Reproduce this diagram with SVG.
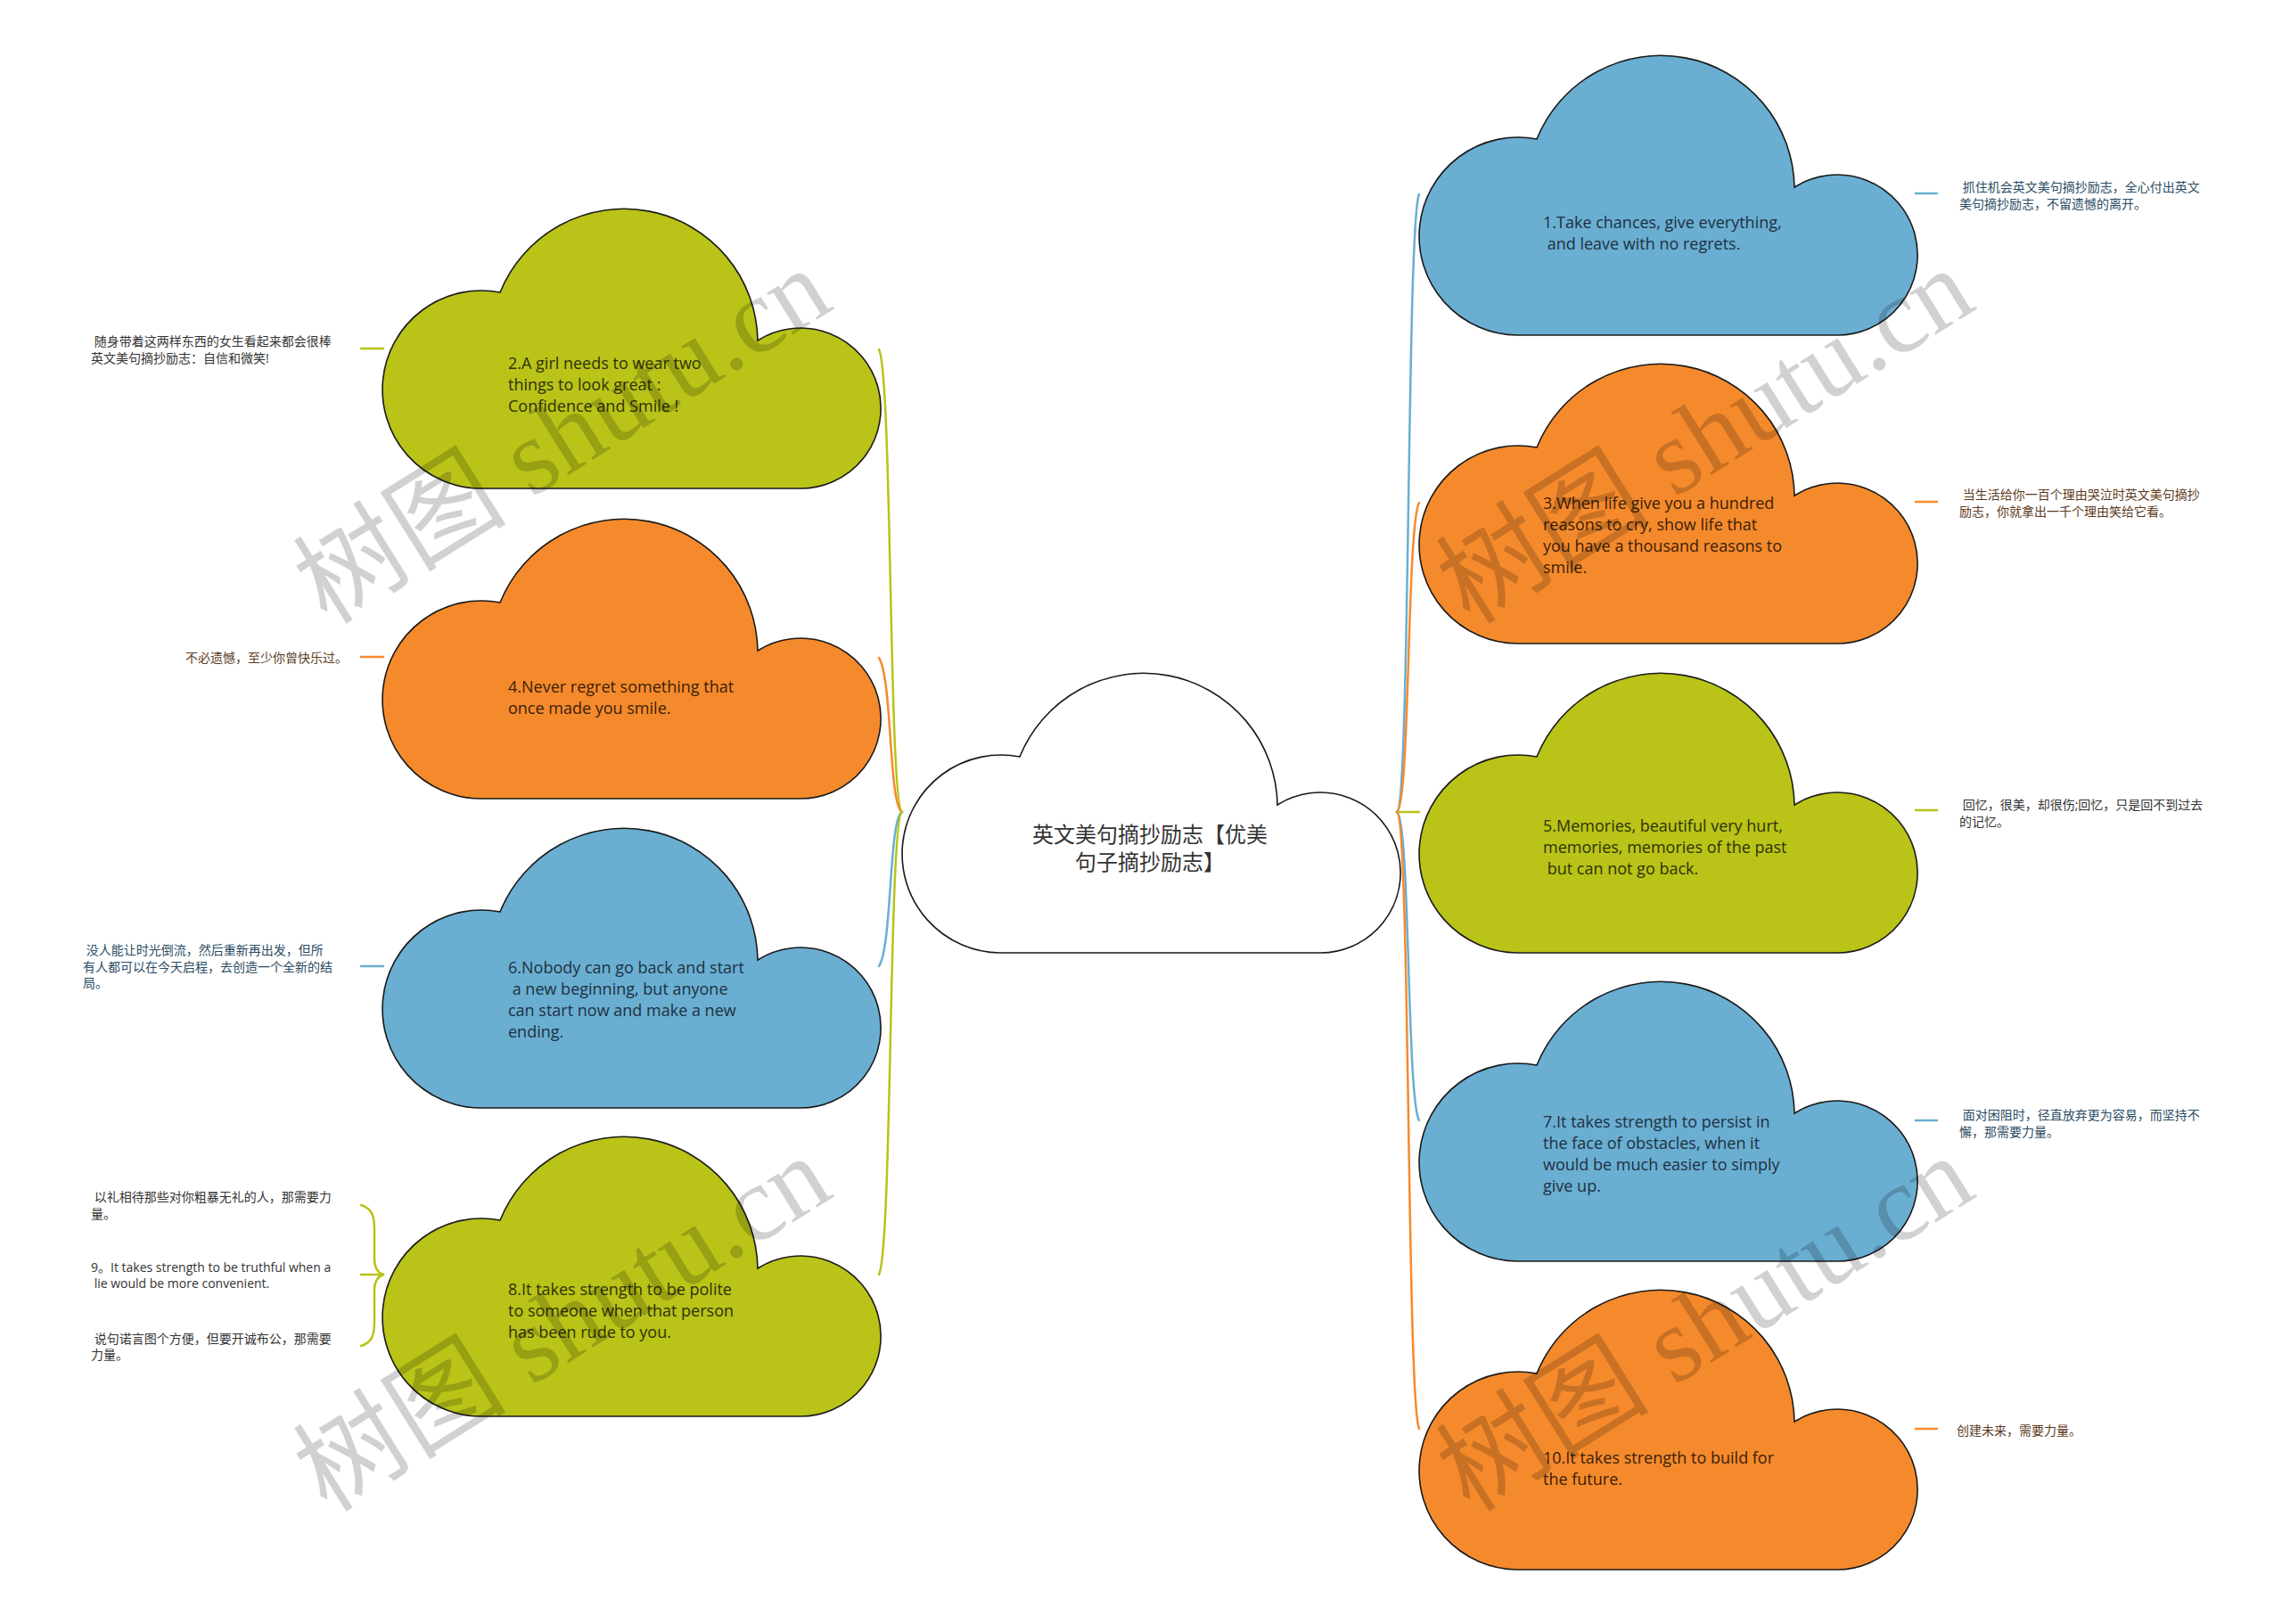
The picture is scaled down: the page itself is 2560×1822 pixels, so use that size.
<svg xmlns="http://www.w3.org/2000/svg" width="2560" height="1822" viewBox="0 0 2560 1822">
<style>
.cl{stroke:#1a1a1a;stroke-width:1.6}
.fb{fill:#6aaed2}.fo{fill:#f58a2c}.fg{fill:#b9c318}.fw{fill:#ffffff}
.t{font-family:"Open Sans","Noto Sans CJK SC",sans-serif;font-size:18px;white-space:pre}
.tb{fill:#1e3140}.to{fill:#3a210a}.tg{fill:#2e320a}
.n{font-family:"Open Sans","Noto Sans CJK SC",sans-serif;font-size:14px;white-space:pre}
.nb{fill:#2b4c63}.no{fill:#5c3a1c}.ng{fill:#333333}
.lk{fill:none;stroke-width:2.5;stroke-linecap:round}
.sb{stroke:#6aaed2}.so{stroke:#f58a2c}.sg{stroke:#b9c318}
.wm{fill:#000000;fill-opacity:0.18;font-size:120px}
</style>
<defs>
<path id="cloud" d="M110,316 A111,111 0 1 1 132,96 A150,150 0 0 1 421,150 A90,90 0 1 1 466,316 Z"/>
</defs>
<rect width="2560" height="1822" fill="#ffffff"/>

<g id="connectors">
<path class="lk sg" d="M1012,911 C997,905 1001,420 986,392"/>
<path class="lk so" d="M1012,911 C997,905 1001,760 986,738"/>
<path class="lk sb" d="M1012,911 C997,917 1001,1062 986,1084"/>
<path class="lk sg" d="M1012,911 C997,917 1001,1400 986,1430"/>
<path class="lk sb" d="M1567,911 C1582,905 1578,250 1592,218"/>
<path class="lk so" d="M1567,911 C1582,905 1578,590 1592,564"/>
<path class="lk sg" d="M1567,911 L1592,911"/>
<path class="lk sb" d="M1567,911 C1582,917 1578,1232 1592,1257"/>
<path class="lk so" d="M1567,911 C1582,917 1578,1570 1592,1603"/>
<path class="lk sb" d="M2149,217 L2173,217"/>
<path class="lk so" d="M2149,563 L2173,563"/>
<path class="lk sg" d="M2149,909 L2173,909"/>
<path class="lk sb" d="M2149,1257 L2173,1257"/>
<path class="lk so" d="M2149,1603 L2173,1603"/>
<path class="lk sg" d="M405,391 L430,391"/>
<path class="lk so" d="M405,737 L430,737"/>
<path class="lk sb" d="M405,1084 L430,1084"/>
<path class="lk sg" d="M405,1352 C418,1356 420,1365 420,1380 L420,1412 C420,1422 424,1428 430,1430"/>
<path class="lk sg" d="M405,1510 C418,1506 420,1497 420,1482 L420,1448 C420,1438 424,1432 430,1430"/>
<path class="lk sg" d="M405,1430 L430,1430"/>
</g>

<g id="center">
<use href="#cloud" x="1012" y="753" class="cl fw"/>
<text font-family="'Noto Sans CJK SC',sans-serif" font-size="24" fill="#333333" text-anchor="middle"><tspan x="1290" y="945">英文美句摘抄励志【优美</tspan><tspan x="1290" y="976">句子摘抄励志】</tspan></text>
</g>

<g id="node1">
<use href="#cloud" x="1592" y="60" class="cl fb"/>
<text class="t tb" xml:space="preserve"><tspan x="1731" y="256">1.Take chances, give everything,</tspan><tspan x="1731" y="280"> and leave with no regrets.</tspan></text>
</g>
<g id="node3">
<use href="#cloud" x="1592" y="406" class="cl fo"/>
<text class="t to" xml:space="preserve"><tspan x="1731" y="571">3.When life give you a hundred</tspan><tspan x="1731" y="595">reasons to cry, show life that</tspan><tspan x="1731" y="619">you have a thousand reasons to</tspan><tspan x="1731" y="643">smile.</tspan></text>
</g>
<g id="node5">
<use href="#cloud" x="1592" y="753" class="cl fg"/>
<text class="t tg" xml:space="preserve"><tspan x="1731" y="933">5.Memories, beautiful very hurt,</tspan><tspan x="1731" y="957">memories, memories of the past</tspan><tspan x="1731" y="981"> but can not go back.</tspan></text>
</g>
<g id="node7">
<use href="#cloud" x="1592" y="1099" class="cl fb"/>
<text class="t tb" xml:space="preserve"><tspan x="1731" y="1265">7.It takes strength to persist in</tspan><tspan x="1731" y="1289">the face of obstacles, when it</tspan><tspan x="1731" y="1313">would be much easier to simply</tspan><tspan x="1731" y="1337">give up.</tspan></text>
</g>
<g id="node10">
<use href="#cloud" x="1592" y="1445" class="cl fo"/>
<text class="t to" xml:space="preserve"><tspan x="1731" y="1642">10.It takes strength to build for</tspan><tspan x="1731" y="1666">the future.</tspan></text>
</g>

<g id="node2">
<use href="#cloud" x="429" y="232" class="cl fg"/>
<text class="t tg" xml:space="preserve"><tspan x="570" y="414">2.A girl needs to wear two</tspan><tspan x="570" y="438">things to look great :</tspan><tspan x="570" y="462">Confidence and Smile !</tspan></text>
</g>
<g id="node4">
<use href="#cloud" x="429" y="580" class="cl fo"/>
<text class="t to" xml:space="preserve"><tspan x="570" y="777">4.Never regret something that</tspan><tspan x="570" y="801">once made you smile.</tspan></text>
</g>
<g id="node6">
<use href="#cloud" x="429" y="927" class="cl fb"/>
<text class="t tb" xml:space="preserve"><tspan x="570" y="1092">6.Nobody can go back and start</tspan><tspan x="570" y="1116"> a new beginning, but anyone</tspan><tspan x="570" y="1140">can start now and make a new</tspan><tspan x="570" y="1164">ending.</tspan></text>
</g>
<g id="node8">
<use href="#cloud" x="429" y="1273" class="cl fg"/>
<text class="t tg" xml:space="preserve"><tspan x="570" y="1453">8.It takes strength to be polite</tspan><tspan x="570" y="1477">to someone when that person</tspan><tspan x="570" y="1501">has been rude to you.</tspan></text>
</g>

<g id="note1"><text class="n nb" xml:space="preserve"><tspan x="2198" y="215"> 抓住机会英文美句摘抄励志，全心付出英文</tspan><tspan x="2198" y="234">美句摘抄励志，不留遗憾的离开。</tspan></text></g>
<g id="note3"><text class="n no" xml:space="preserve"><tspan x="2198" y="560"> 当生活给你一百个理由哭泣时英文美句摘抄</tspan><tspan x="2198" y="579">励志，你就拿出一千个理由笑给它看。</tspan></text></g>
<g id="note5"><text class="n ng" xml:space="preserve"><tspan x="2198" y="908"> 回忆，很美，却很伤;回忆，只是回不到过去</tspan><tspan x="2198" y="927">的记忆。</tspan></text></g>
<g id="note7"><text class="n nb" xml:space="preserve"><tspan x="2198" y="1256"> 面对困阻时，径直放弃更为容易，而坚持不</tspan><tspan x="2198" y="1275">懈，那需要力量。</tspan></text></g>
<g id="note10"><text class="n no" xml:space="preserve"><tspan x="2195" y="1610">创建未来，需要力量。</tspan></text></g>
<g id="note2"><text class="n ng" xml:space="preserve"><tspan x="102" y="388"> 随身带着这两样东西的女生看起来都会很棒</tspan><tspan x="102" y="407">英文美句摘抄励志：自信和微笑!</tspan></text></g>
<g id="note4"><text class="n no" xml:space="preserve"><tspan x="208" y="743">不必遗憾，至少你曾快乐过。</tspan></text></g>
<g id="note6"><text class="n nb" xml:space="preserve"><tspan x="93" y="1071"> 没人能让时光倒流，然后重新再出发，但所</tspan><tspan x="93" y="1090">有人都可以在今天启程，去创造一个全新的结</tspan><tspan x="93" y="1108">局。</tspan></text></g>
<g id="note8a"><text class="n ng" xml:space="preserve"><tspan x="102" y="1348"> 以礼相待那些对你粗暴无礼的人，那需要力</tspan><tspan x="102" y="1367">量。</tspan></text></g>
<g id="note8b"><text class="n ng" xml:space="preserve"><tspan x="102" y="1427">9。It takes strength to be truthful when a</tspan><tspan x="102" y="1445"> lie would be more convenient.</tspan></text></g>
<g id="note8c"><text class="n ng" xml:space="preserve"><tspan x="102" y="1507"> 说句诺言图个方便，但要开诚布公，那需要</tspan><tspan x="102" y="1525">力量。</tspan></text></g>

<g id="watermarks" class="wm">
<text transform="translate(367,702) rotate(-32)"><tspan font-family="'Noto Sans CJK SC',sans-serif">树图</tspan><tspan font-family="'Liberation Serif',serif"> shutu.cn</tspan></text>
<text transform="translate(1649,702) rotate(-32)"><tspan font-family="'Noto Sans CJK SC',sans-serif">树图</tspan><tspan font-family="'Liberation Serif',serif"> shutu.cn</tspan></text>
<text transform="translate(367,1698) rotate(-32)"><tspan font-family="'Noto Sans CJK SC',sans-serif">树图</tspan><tspan font-family="'Liberation Serif',serif"> shutu.cn</tspan></text>
<text transform="translate(1649,1698) rotate(-32)"><tspan font-family="'Noto Sans CJK SC',sans-serif">树图</tspan><tspan font-family="'Liberation Serif',serif"> shutu.cn</tspan></text>
</g>
</svg>
